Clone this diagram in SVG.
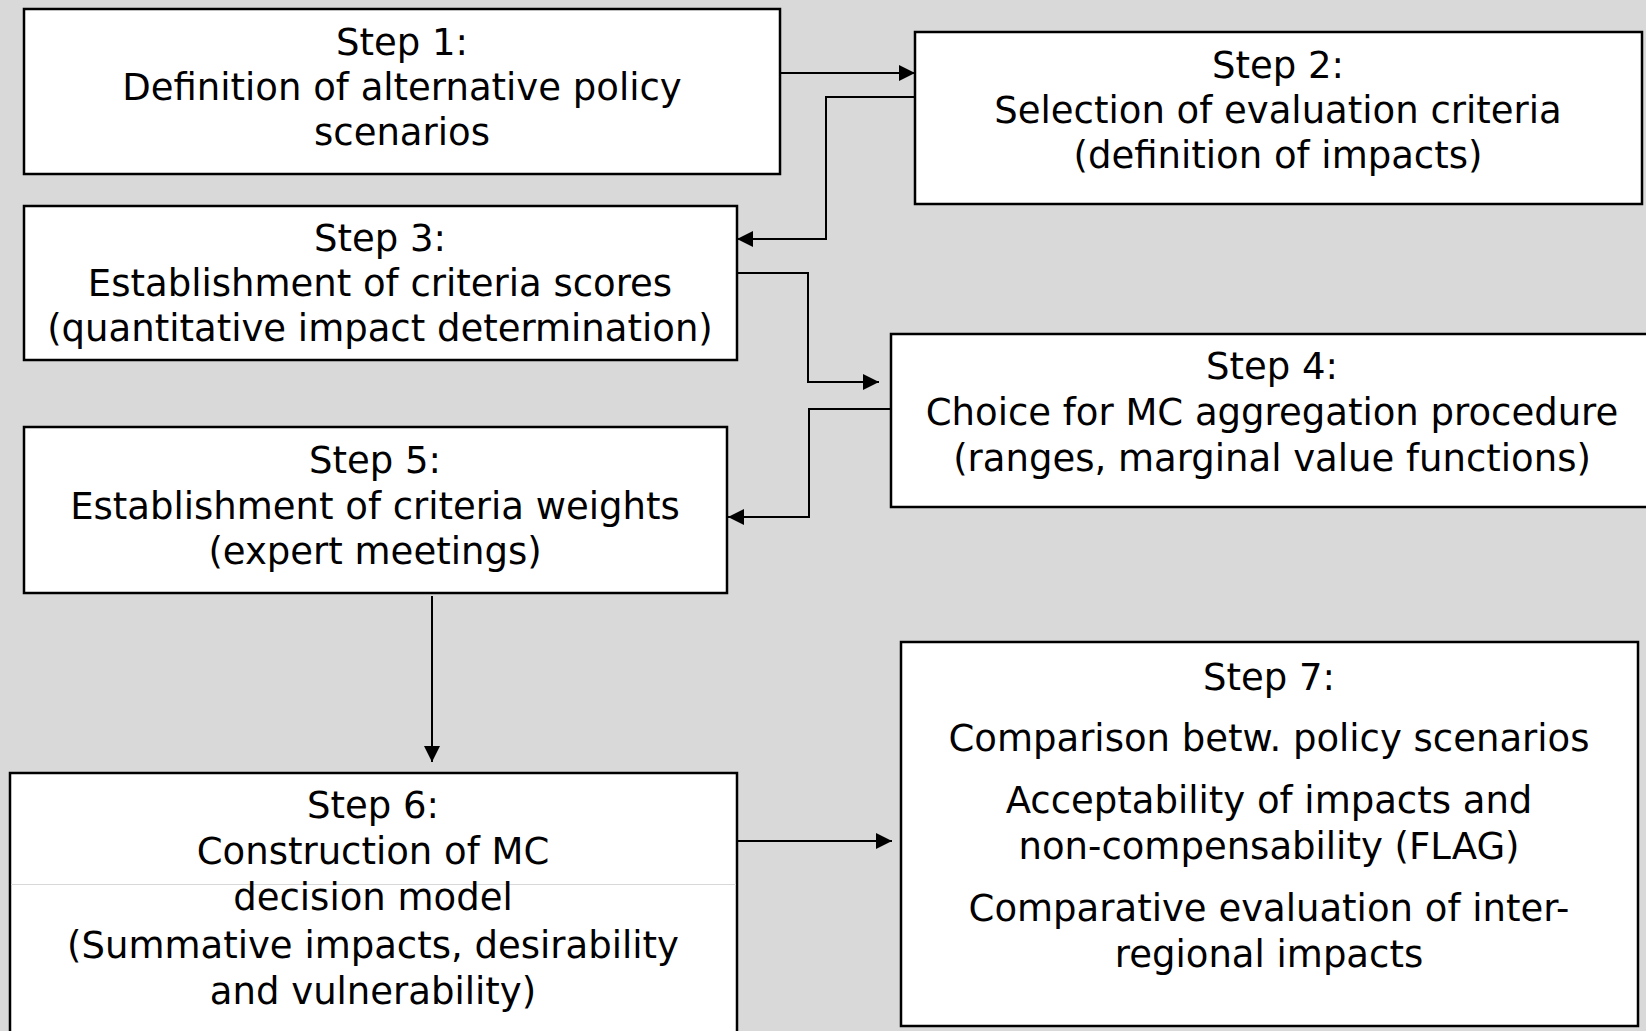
<svg xmlns="http://www.w3.org/2000/svg" width="1646" height="1031" viewBox="0 0 1646 1031">
<style>
.bg{fill:#d9d9d9}
.box{fill:#ffffff;stroke:#000000;stroke-width:2.5}
.t{font-family:"DejaVu Sans","Liberation Sans",sans-serif;font-size:37px;fill:#000000;text-anchor:middle}
.c{fill:none;stroke:#000000;stroke-width:2}
</style>
<defs>
<marker id="ah" markerUnits="userSpaceOnUse" viewBox="0 0 16 16" markerWidth="16" markerHeight="16" refX="16" refY="8" orient="auto">
<path d="M0,0 L16,8 L0,16 Z" fill="#000000"/>
</marker>
</defs>
<rect class="bg" x="0" y="0" width="1646" height="1031"/>
<g id="step1">
<rect class="box" x="24" y="9" width="756" height="165"/>
<text class="t" x="402" y="55">Step 1:</text>
<text class="t" x="402" y="100">Definition of alternative policy</text>
<text class="t" x="402" y="145">scenarios</text>
</g>
<g id="step2">
<rect class="box" x="915" y="32" width="727" height="172"/>
<text class="t" x="1278" y="78">Step 2:</text>
<text class="t" x="1278" y="123">Selection of evaluation criteria</text>
<text class="t" x="1278" y="168">(definition of impacts)</text>
</g>
<g id="step3">
<rect class="box" x="24" y="206" width="713" height="154"/>
<text class="t" x="380" y="251">Step 3:</text>
<text class="t" x="380" y="296">Establishment of criteria scores</text>
<text class="t" x="380" y="341">(quantitative impact determination)</text>
</g>
<g id="step4">
<rect class="box" x="891" y="334" width="800" height="173"/>
<text class="t" x="1272" y="379">Step 4:</text>
<text class="t" x="1272" y="425">Choice for MC aggregation procedure</text>
<text class="t" x="1272" y="471">(ranges, marginal value functions)</text>
</g>
<g id="step5">
<rect class="box" x="24" y="427" width="703" height="166"/>
<text class="t" x="375" y="473">Step 5:</text>
<text class="t" x="375" y="519">Establishment of criteria weights</text>
<text class="t" x="375" y="564">(expert meetings)</text>
</g>
<g id="step6">
<rect class="box" x="10" y="773" width="727" height="300"/>
<line x1="11" y1="884.5" x2="736" y2="884.5" stroke="#d8d8d8" stroke-width="1"/>
<text class="t" x="373" y="818">Step 6:</text>
<text class="t" x="373" y="864">Construction of MC</text>
<text class="t" x="373" y="910">decision model</text>
<text class="t" x="373" y="958">(Summative impacts, desirability</text>
<text class="t" x="373" y="1004">and vulnerability)</text>
</g>
<g id="step7">
<rect class="box" x="901" y="642" width="737" height="384"/>
<text class="t" x="1269" y="690">Step 7:</text>
<text class="t" x="1269" y="751">Comparison betw. policy scenarios</text>
<text class="t" x="1269" y="813">Acceptability of impacts and</text>
<text class="t" x="1269" y="859">non-compensability (FLAG)</text>
<text class="t" x="1269" y="921">Comparative evaluation of inter-</text>
<text class="t" x="1269" y="967">regional impacts</text>
</g>
<g id="connectors">
<path class="c" d="M780,73 H915" marker-end="url(#ah)"/>
<path class="c" d="M915,97 H826 V239 H737" marker-end="url(#ah)"/>
<path class="c" d="M737,273 H808 V382 H879" marker-end="url(#ah)"/>
<path class="c" d="M891,409 H809 V517 H728" marker-end="url(#ah)"/>
<path class="c" d="M432,596 V762" marker-end="url(#ah)"/>
<path class="c" d="M737,841 H892" marker-end="url(#ah)"/>
</g>
</svg>
